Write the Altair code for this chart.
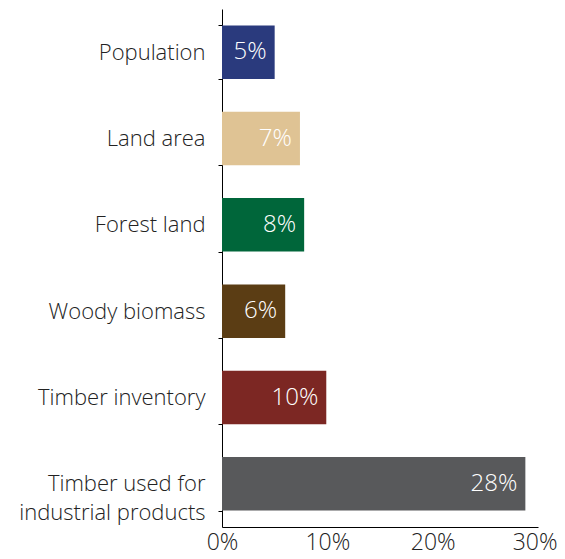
import altair as alt
import pandas as pd

categories = ["Population", "Land area", "Forest land", "Woody biomass",
              "Timber inventory", "Timber used for|industrial products"]
values = [5.0, 7.4, 7.8, 6.0, 9.9, 28.8]
labels = ["5%", "7%", "8%", "6%", "10%", "28%"]
colors = ["#2a3a7d", "#dfc394", "#00663a", "#5b3d14", "#7c2723", "#58595b"]

df = pd.DataFrame({"cat": categories, "val": values, "lab": labels, "col": colors})

FONT = "Open Sans"
W = 300

y = alt.Y("cat:N", sort=categories, title=None,
          scale=alt.Scale(paddingInner=0.38, paddingOuter=0.19),
          axis=alt.Axis(labelExpr="split(datum.label, '|')", labelFontSize=22,
                        labelFontWeight=W,
                        labelColor="#222222", labelFont=FONT, labelPadding=13,
                        labelLineHeight=29, tickSize=4, tickColor="#000000",
                        domainColor="#000000", tickBand="extent",
                        labelLimit=300))
x = alt.X("val:Q", title=None,
          scale=alt.Scale(domain=[0, 30], nice=False),
          axis=alt.Axis(values=[0, 10, 20, 30], labelExpr="datum.value + '%'",
                        labelFontSize=23, labelFont=FONT, labelColor="#222222",
                        labelFontWeight=W,
                        labelAlign={"condition": {"test": "datum.value == 30", "value": "right"},
                                    "value": "center"},
                        labelOffset={"condition": {"test": "datum.value == 30", "value": 19},
                                     "value": 0},
                        ticks=False, grid=False, domainColor="#000000",
                        labelPadding=4, labelFlush=False))

bars = alt.Chart(df).mark_bar().encode(
    x=x, y=y, color=alt.Color("col:N", scale=None))

text = alt.Chart(df).mark_text(align="right", baseline="middle", dx=-8,
                               color="white", fontSize=24, font=FONT,
                               fontWeight=W).encode(
    x="val:Q", y=alt.Y("cat:N", sort=categories), text="lab:N")

chart = (bars + text).properties(
    width=316, height=518,
    autosize=alt.AutoSizeParams(type="none"),
    padding={"left": 214, "top": 1, "right": 19, "bottom": 32},
).configure_view(stroke=None)

chart.save("out.html", embed_options={"renderer": "svg", "actions": False})
